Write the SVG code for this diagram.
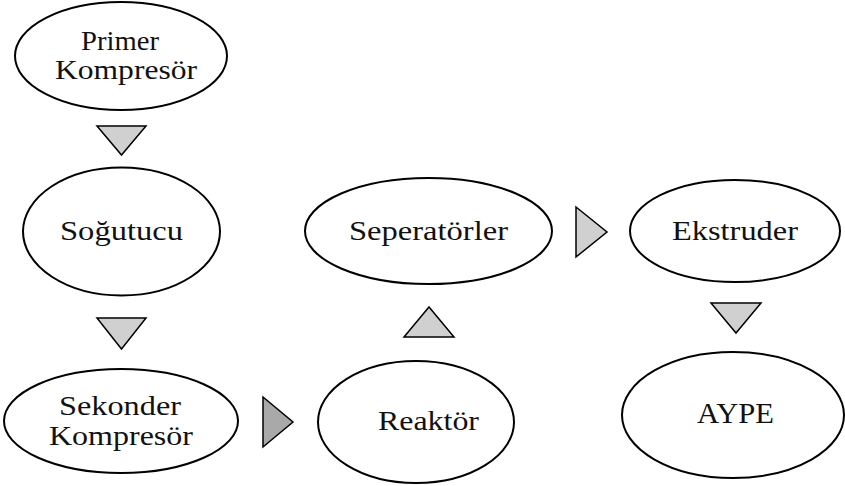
<svg xmlns="http://www.w3.org/2000/svg" width="845" height="486" viewBox="0 0 845 486">
  <style>
    .node ellipse { fill: #ffffff; stroke: #000000; stroke-width: 2; }
    .node text { font-family: "Liberation Serif", "Times New Roman", serif; font-size: 28px; fill: #111111; text-anchor: middle; }
    .arrow { fill: #d0d0d0; stroke: #000000; stroke-width: 1.5; stroke-linejoin: miter; }
    .arrow.dark { fill: #a9a9a9; }
  </style>
  <rect width="845" height="486" fill="#ffffff"/>

  <g id="primer-kompresor" class="node">
    <ellipse cx="121" cy="56" rx="106" ry="54"/>
    <text x="120" y="50" textLength="78" lengthAdjust="spacingAndGlyphs">Primer</text>
    <text x="126" y="79" textLength="142" lengthAdjust="spacingAndGlyphs">Kompresör</text>
  </g>

  <g id="sogutucu" class="node">
    <ellipse cx="121.5" cy="231.5" rx="98.5" ry="64"/>
    <text x="121.5" y="240" textLength="123" lengthAdjust="spacingAndGlyphs">Soğutucu</text>
  </g>

  <g id="sekonder-kompresor" class="node">
    <ellipse cx="121" cy="421" rx="117" ry="52"/>
    <text x="120" y="415" textLength="122" lengthAdjust="spacingAndGlyphs">Sekonder</text>
    <text x="121" y="445" textLength="144" lengthAdjust="spacingAndGlyphs">Kompresör</text>
  </g>

  <g id="reaktor" class="node">
    <ellipse cx="416" cy="422" rx="98" ry="61"/>
    <text x="428.5" y="430" textLength="101" lengthAdjust="spacingAndGlyphs">Reaktör</text>
  </g>

  <g id="seperatorler" class="node">
    <ellipse cx="428.5" cy="231" rx="123.5" ry="53"/>
    <text x="428.5" y="240" textLength="159" lengthAdjust="spacingAndGlyphs">Seperatörler</text>
  </g>

  <g id="ekstruder" class="node">
    <ellipse cx="735" cy="231" rx="105" ry="51"/>
    <text x="735" y="240" textLength="126" lengthAdjust="spacingAndGlyphs">Ekstruder</text>
  </g>

  <g id="aype" class="node">
    <ellipse cx="733" cy="415" rx="111" ry="63"/>
    <text x="735.5" y="423" style="font-size:29px" textLength="77" lengthAdjust="spacingAndGlyphs">AYPE</text>
  </g>

  <g id="connectors">
    <polygon class="arrow" points="97,126 146,126 121.5,155"/>
    <polygon class="arrow" points="97,318 146,318 121.5,349"/>
    <polygon class="arrow dark" points="263,397 293,422 263,447"/>
    <polygon class="arrow" points="404,337 454,337 429,307"/>
    <polygon class="arrow" points="576,207 607,232 576,257"/>
    <polygon class="arrow" points="711,303 761,303 736,333"/>
  </g>
</svg>
